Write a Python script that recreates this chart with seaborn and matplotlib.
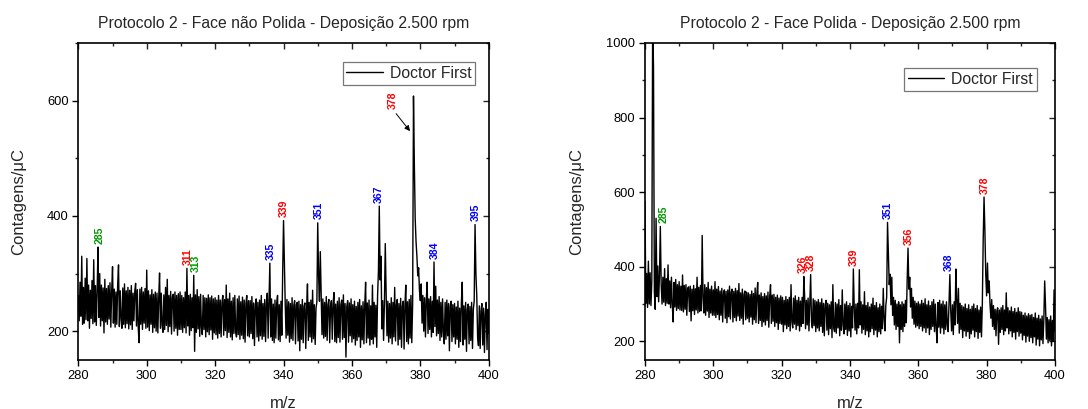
import numpy as np
import pandas as pd
import matplotlib
matplotlib.use("Agg")
import matplotlib.pyplot as plt
from matplotlib.ticker import MultipleLocator
import seaborn as sns

# ---------------- data ----------------
MZ_START, MZ_STOP, MZ_STEP = 280.0, 400.0, 0.25

left_counts = [
    # 280 - 289.75
    262, 218, 285, 226, 330, 212, 276, 214, 292, 220, 326, 218, 280, 205, 271, 222, 288, 213, 324, 216,
    279, 210, 270, 346, 224, 300, 209, 280, 218, 275, 197, 290, 216, 274, 212, 279, 221, 284, 207, 270,
    # 290 - 299.75
    312, 214, 273, 207, 268, 212, 281, 315, 208, 270, 222, 205, 275, 212, 282, 206, 270, 213, 276, 204,
    271, 211, 279, 203, 266, 218, 269, 283, 209, 272, 208, 180, 273, 212, 276, 203, 268, 214, 274, 205,
    # 300 - 309.75
    306, 207, 270, 201, 263, 212, 272, 198, 264, 206, 268, 200, 266, 197, 258, 301, 205, 266, 210, 198,
    263, 203, 276, 210, 290, 199, 262, 208, 269, 195, 259, 264, 200, 268, 205, 262, 193, 265, 203, 268,
    # 310 - 319.75
    203, 262, 198, 258, 206, 268, 197, 309, 209, 262, 193, 264, 201, 258, 206, 297, 165, 263, 198, 272,
    204, 260, 191, 264, 206, 194, 262, 203, 258, 190, 257, 199, 263, 194, 258, 202, 261, 186, 256, 197,
    # 320 - 329.75
    258, 194, 254, 188, 262, 196, 254, 190, 250, 262, 193, 255, 201, 280, 189, 256, 198, 266, 190, 252,
    185, 258, 196, 262, 199, 190, 256, 194, 261, 186, 251, 193, 259, 187, 254, 181, 248, 262, 192, 253,
    # 330 - 339.75
    190, 253, 196, 260, 187, 249, 175, 246, 256, 190, 250, 183, 254, 192, 262, 186, 248, 191, 255, 182,
    249, 266, 188, 252, 318, 190, 256, 184, 247, 180, 254, 188, 249, 262, 185, 246, 182, 252, 193, 303,
    # 340 - 349.75
    392, 320, 246, 188, 255, 193, 251, 181, 248, 187, 258, 184, 245, 253, 178, 246, 250, 183, 252, 166,
    246, 186, 255, 180, 243, 249, 170, 240, 282, 184, 250, 190, 254, 181, 271, 187, 246, 177, 240, 251,
    # 350 - 359.75
    388, 296, 252, 338, 262, 194, 256, 188, 250, 191, 260, 184, 246, 255, 180, 244, 253, 186, 248, 267,
    182, 247, 180, 252, 189, 258, 181, 246, 254, 186, 263, 189, 248, 155, 243, 253, 181, 249, 192, 256,
    # 360 - 369.75
    181, 246, 187, 252, 176, 243, 184, 250, 190, 255, 172, 244, 185, 251, 178, 246, 285, 180, 249, 188,
    254, 176, 244, 186, 280, 178, 250, 190, 245, 172, 262, 305, 417, 289, 330, 204, 253, 184, 248, 352,
    # 370 - 379.75
    266, 192, 252, 181, 248, 188, 258, 178, 250, 190, 276, 183, 245, 255, 176, 248, 186, 257, 172, 244,
    252, 169, 246, 280, 182, 251, 178, 255, 188, 262, 180, 246, 608, 490, 395, 355, 330, 296, 310, 270,
    # 380 - 389.75
    253, 282, 214, 262, 200, 258, 190, 254, 285, 196, 256, 203, 260, 190, 252, 198, 320, 208, 278, 192,
    254, 196, 260, 184, 250, 190, 256, 198, 178, 250, 186, 254, 192, 248, 166, 244, 252, 182, 246, 190,
    # 390 - 400
    248, 178, 242, 186, 252, 172, 240, 182, 249, 285, 176, 244, 186, 250, 165, 238, 247, 178, 243, 184,
    250, 170, 238, 252, 385, 300, 262, 190, 175, 244, 170, 236, 248, 176, 240, 163, 230, 250, 168, 238,
    196,
]

right_counts = [
    # 280 - 289.75
    575, 302, 382, 291, 415, 300, 384, 296, 362, 1060, 935, 332, 286, 530, 320, 402, 306, 378, 508, 352,
    300, 372, 305, 395, 296, 368, 302, 405, 300, 362, 290, 372, 298, 252, 358, 292, 366, 283, 352, 288,
    # 290 - 299.75
    360, 284, 348, 283, 378, 279, 350, 286, 352, 270, 342, 346, 280, 348, 255, 340, 282, 350, 272, 341,
    284, 372, 276, 345, 280, 350, 282, 484, 318, 276, 352, 270, 344, 281, 358, 264, 340, 276, 348, 270,
    # 300 - 309.75
    338, 270, 360, 264, 340, 272, 347, 258, 335, 270, 342, 252, 330, 338, 262, 334, 250, 338, 266, 348,
    260, 332, 340, 252, 334, 264, 342, 255, 336, 268, 355, 256, 330, 262, 340, 246, 326, 335, 258, 332,
    # 310 - 319.75
    262, 330, 252, 326, 265, 335, 246, 328, 258, 343, 250, 326, 358, 248, 324, 256, 330, 240, 320, 252,
    328, 244, 322, 256, 332, 238, 318, 352, 248, 324, 254, 326, 240, 318, 250, 324, 232, 316, 248, 322,
    # 320 - 329.75
    246, 318, 226, 310, 244, 320, 234, 312, 240, 318, 228, 352, 252, 236, 316, 246, 322, 232, 310, 242,
    318, 228, 308, 240, 318, 248, 374, 318, 234, 310, 244, 316, 228, 308, 379, 252, 236, 314, 242, 310,
    # 330 - 339.75
    226, 306, 236, 312, 228, 304, 240, 314, 224, 302, 215, 298, 310, 230, 302, 218, 298, 234, 306, 210,
    352, 236, 226, 304, 222, 300, 236, 312, 215, 296, 230, 338, 244, 220, 300, 232, 306, 216, 296, 228,
    # 340 - 349.75
    302, 212, 294, 236, 394, 292, 230, 300, 220, 302, 236, 392, 244, 306, 222, 298, 232, 333, 218, 296,
    228, 304, 212, 292, 226, 300, 234, 316, 218, 296, 230, 304, 212, 290, 226, 300, 220, 294, 234, 342,
    # 350 - 359.75
    262, 228, 296, 318, 519, 432, 352, 380, 298, 372, 270, 318, 244, 310, 232, 300, 240, 306, 196, 298,
    232, 306, 226, 300, 240, 310, 250, 365, 450, 340, 372, 292, 342, 262, 318, 246, 308, 238, 302, 242,
    # 360 - 369.75
    306, 234, 300, 240, 310, 228, 302, 236, 314, 224, 298, 236, 308, 218, 296, 232, 306, 240, 312, 226,
    300, 236, 196, 304, 238, 310, 222, 300, 236, 308, 220, 298, 232, 306, 244, 226, 302, 379, 282, 228,
    # 370 - 379.75
    298, 218, 306, 244, 394, 310, 248, 342, 222, 302, 232, 296, 210, 292, 228, 300, 214, 288, 226, 298,
    208, 286, 220, 294, 230, 300, 212, 288, 226, 296, 208, 284, 224, 292, 212, 300, 470, 587, 498, 380,
    # 380 - 389.75
    322, 410, 330, 362, 300, 262, 312, 240, 296, 232, 286, 215, 282, 290, 192, 284, 224, 290, 232, 296,
    218, 284, 228, 330, 236, 290, 220, 282, 228, 292, 212, 280, 224, 288, 206, 278, 226, 290, 214, 280,
    # 390 - 400
    222, 278, 204, 270, 216, 276, 198, 268, 214, 274, 200, 270, 210, 272, 196, 264, 212, 276, 190, 262,
    206, 270, 188, 260, 204, 268, 194, 258, 362, 296, 206, 264, 196, 258, 202, 268, 188, 256, 200, 338,
    226,
]

# peak labels: text, m/z where the label sits, colour
left_labels = ["285", "311", "313", "335", "339", "351", "367", "384", "395"]
left_label_mz = [286.1, 312.0, 314.4, 336.2, 340.1, 350.4, 367.9, 384.1, 396.3]
left_label_colors = ["green", "red", "green", "blue", "red", "blue", "blue", "blue", "blue"]

right_labels = ["285", "326", "328", "339", "351", "356", "368", "378"]
right_label_mz = [285.4, 326.2, 328.6, 341.0, 351.1, 357.2, 368.8, 379.5]
right_label_colors = ["green", "red", "red", "red", "blue", "red", "blue", "red"]

# arrow-annotated base peak on the left panel
left_arrow_label = "378"
left_arrow_text = (371.9, 585)
left_arrow_tip = (377.0, 547)

titles = ["Protocolo 2 - Face não Polida - Deposição 2.500 rpm",
          "Protocolo 2 - Face Polida - Deposição 2.500 rpm"]
series_name = "Doctor First"
x_label = "m/z"
y_label = "Contagens/\u03bcC"

COLOR_MAP = {"green": "#009900", "red": "#ff0000", "blue": "#0000ff"}

# ---------------- styling ----------------
sns.set_theme(style="white")
plt.rcParams["font.family"] = ["Liberation Sans", "DejaVu Sans"]
plt.rcParams["axes.edgecolor"] = "black"
plt.rcParams["axes.linewidth"] = 1.2

mz = np.arange(MZ_START, MZ_STOP + MZ_STEP / 2, MZ_STEP)
df_left = pd.DataFrame({"mz": mz, "counts": left_counts})
df_right = pd.DataFrame({"mz": mz, "counts": right_counts})

fig = plt.figure(figsize=(10.88, 4.09), dpi=100)
ax_l = fig.add_axes([0.0720, 0.1198, 0.3772, 0.7751])
ax_r = fig.add_axes([0.5928, 0.1198, 0.3768, 0.7751])


def style_axes(ax, df, ylim, ymajor, title, legend_anchor, ylabel_x):
    sns.lineplot(data=df, x="mz", y="counts", ax=ax, color="black",
                 linewidth=1.0, label=series_name, estimator=None)
    ax.set_xlim(280, 400)
    ax.set_ylim(*ylim)
    ax.xaxis.set_major_locator(MultipleLocator(20))
    ax.xaxis.set_minor_locator(MultipleLocator(10))
    ax.yaxis.set_major_locator(MultipleLocator(ymajor))
    ax.yaxis.set_minor_locator(MultipleLocator(ymajor / 2))
    for sp in ax.spines.values():
        sp.set_visible(True)
        sp.set_color("black")
        sp.set_linewidth(1.2)
    ax.tick_params(axis="both", which="major", direction="out", length=4.5,
                   width=1.0, labelsize=9.3, pad=2.5, colors="black",
                   bottom=True, left=True, top=False, right=False)
    ax.tick_params(axis="both", which="minor", direction="out", length=2.5,
                   width=1.0, bottom=True, left=True, top=False, right=False)
    # inward ticks on top and right
    sec_x = ax.secondary_xaxis("top")
    sec_x.xaxis.set_major_locator(MultipleLocator(20))
    sec_x.xaxis.set_minor_locator(MultipleLocator(10))
    sec_x.tick_params(which="major", direction="in", length=4.5, width=1.0, labeltop=False)
    sec_x.tick_params(which="minor", direction="in", length=2.5, width=1.0)
    sec_x.spines["top"].set_visible(False)
    sec_y = ax.secondary_yaxis("right")
    sec_y.yaxis.set_major_locator(MultipleLocator(ymajor))
    sec_y.yaxis.set_minor_locator(MultipleLocator(ymajor / 2))
    sec_y.tick_params(which="major", direction="in", length=4.5, width=1.0, labelright=False)
    sec_y.tick_params(which="minor", direction="in", length=2.5, width=1.0)
    sec_y.spines["right"].set_visible(False)

    ax.set_xlabel(x_label, fontsize=12)
    ax.set_ylabel(y_label, fontsize=12)
    ax.xaxis.set_label_coords(0.5, -0.112)
    ax.yaxis.set_label_coords(ylabel_x, 0.5)
    ax.set_title(title, fontsize=11.3, pad=11)

    leg = ax.legend(loc="upper right", bbox_to_anchor=legend_anchor,
                    frameon=True, fancybox=False, fontsize=11.3,
                    handlelength=2.3, borderpad=0.25, borderaxespad=0,
                    handletextpad=0.45)
    leg.get_frame().set_edgecolor("#555555")
    leg.get_frame().set_linewidth(0.9)
    for h in leg.get_lines():
        h.set_linewidth(1.0)


def add_labels(ax, df, labels, label_mz, colors):
    for txt, x, c in zip(labels, label_mz, colors):
        win = df[(df["mz"] >= x - 1.0) & (df["mz"] <= x + 1.0)]
        ypk = win["counts"].max()
        ax.annotate(txt, xy=(x, ypk), xytext=(0, 2.5), textcoords="offset points",
                    rotation=90, ha="center", va="bottom", fontsize=7.6,
                    fontweight="bold", color=COLOR_MAP[c])


style_axes(ax_l, df_left, (150, 700), 200, titles[0], (0.967, 0.940), -0.127)
style_axes(ax_r, df_right, (150, 1000), 200, titles[1], (0.956, 0.921), -0.149)

add_labels(ax_l, df_left, left_labels, left_label_mz, left_label_colors)
add_labels(ax_r, df_right, right_labels, right_label_mz, right_label_colors)

ax_l.annotate(left_arrow_label, xy=left_arrow_tip, xytext=left_arrow_text,
              rotation=90, ha="center", va="bottom", fontsize=7.6,
              fontweight="bold", color=COLOR_MAP["red"],
              arrowprops=dict(arrowstyle="-|>", color="black", lw=0.7,
                              mutation_scale=8, shrinkA=1, shrinkB=0,
                              relpos=(0.5, 0.0)))

fig.savefig("out.png", dpi=100)
